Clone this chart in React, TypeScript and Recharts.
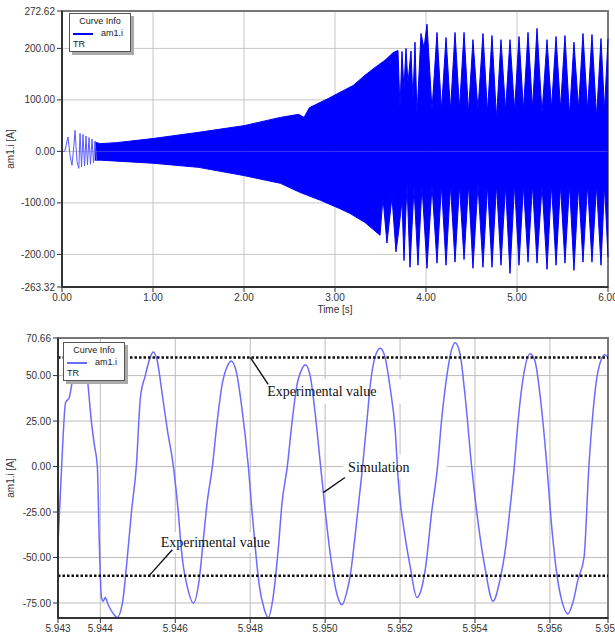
import React from "react"
import {
  ComposedChart,
  Area,
  Line,
  XAxis,
  YAxis,
  CartesianGrid,
  ReferenceLine,
  ReferenceArea,
  Legend,
} from "recharts"

// ---- upper panel: am1.i over the whole run, read as its upper / lower edge
const upperTime = [
  0.36, 0.42, 0.6, 1.0, 1.5, 2.0, 2.4, 2.6, 2.66, 2.72,
  2.93, 3.09, 3.2, 3.33, 3.44, 3.55, 3.64,
  3.692, 3.714, 3.736, 3.758, 3.78, 3.802, 3.835, 3.857, 3.879, 3.901,
  3.945, 3.978, 4.011, 4.066,
  4.121, 4.17, 4.22, 4.269, 4.319, 4.368, 4.418, 4.467, 4.516, 4.571,
  4.626, 4.676, 4.725, 4.775, 4.824, 4.874, 4.923, 4.973, 5.022, 5.071,
  5.121, 5.17, 5.22, 5.275, 5.33, 5.379, 5.429, 5.478, 5.527, 5.577,
  5.626, 5.676, 5.725, 5.775, 5.824, 5.874, 5.923, 5.962, 6.0,
]
const upperCurrent = [
  18, 15, 17, 25, 37, 50, 66, 72, 66, 85,
  103, 118, 128, 148, 163, 177, 192,
  196, 83, 194, 120, 200, 132, 195, 99, 212, 70,
  229, 200, 247, 80,
  231, 80, 221, 80, 231, 83, 231, 76, 217, 80,
  229, 76, 225, 64, 217, 80, 217, 80, 223, 80,
  231, 83, 239, 73, 217, 83, 223, 83, 225, 70,
  212, 83, 229, 80, 227, 66, 219, 80, 219,
]
const lowerTime = [
  0.36, 0.42, 1.0, 1.5, 2.0, 2.4, 2.62, 2.84, 3.05, 3.16,
  3.33, 3.495, 3.527, 3.571, 3.626, 3.67, 3.703, 3.736, 3.758, 3.791,
  3.824, 3.868, 3.912, 3.956, 4.011, 4.066, 4.121, 4.17, 4.22, 4.269,
  4.319, 4.368, 4.418, 4.467, 4.516, 4.571, 4.626, 4.676, 4.725, 4.775,
  4.824, 4.874, 4.923, 4.973, 5.022, 5.071, 5.121, 5.17, 5.22, 5.275,
  5.33, 5.379, 5.429, 5.478, 5.527, 5.577, 5.626, 5.676, 5.725, 5.775,
  5.824, 5.874, 5.923, 5.962, 6.0,
]
const lowerCurrent = [
  -17, -17, -23, -31, -47, -62, -80, -95, -111, -120,
  -138, -163, -90, -178, -88, -195, -150, -95, -212, -62,
  -225, -70, -221, -66, -227, -66, -217, -66, -221, -66,
  -215, -66, -210, -64, -227, -64, -225, -66, -225, -64,
  -221, -66, -237, -64, -221, -66, -215, -64, -217, -66,
  -229, -64, -221, -66, -217, -64, -231, -66, -215, -64,
  -215, -66, -221, -66, -205,
]
// start-up transient, before the trace becomes dense
const startTime = [
  0, 0.03, 0.066, 0.09, 0.11, 0.13, 0.143, 0.165, 0.185, 0.198, 0.215,
  0.231, 0.248, 0.264, 0.28, 0.297, 0.313, 0.33, 0.346, 0.363, 0.38,
]
const startCurrent = [
  0, 0, 28, -10, -27, 10, 41, -20, -33, 35, -30,
  33, -28, 30, -26, 27, -25, 24, -22, 20, -18,
]
const fullTimeTicks = [0, 1, 2, 3, 4, 5, 6]
const fullCurrentTicks = [-263.32, -200, -100, 0, 100, 200, 272.62]

// ---- lower panel: zoom on the last cycles
const zoomTime = [
  5.94288, 5.94299, 5.94307, 5.94317, 5.94328, 5.94347, 5.94363, 5.94376, 5.94384, 5.94392,
  5.94397, 5.94403, 5.94408, 5.94413, 5.94421, 5.94435, 5.94445, 5.94459, 5.94472, 5.94483,
  5.94496, 5.94507, 5.9452, 5.94533, 5.94541, 5.94552, 5.94565, 5.94579, 5.94595, 5.94608,
  5.94616, 5.94621, 5.94632, 5.94648, 5.94664, 5.94675, 5.94685, 5.94699, 5.94712, 5.94725,
  5.94741, 5.94749, 5.94763, 5.94776, 5.94795, 5.94805, 5.94816, 5.94824, 5.94837, 5.94848,
  5.94861, 5.94875, 5.94885, 5.94899, 5.94912, 5.94925, 5.94939, 5.94947, 5.9496, 5.94973,
  5.94987, 5.94995, 5.95013, 5.95029, 5.95045, 5.95059, 5.95067, 5.9508, 5.95099, 5.95112,
  5.9512, 5.95133, 5.95147, 5.9516, 5.95173, 5.95187, 5.95195, 5.95213, 5.95227, 5.95245,
  5.95256, 5.95267, 5.95285, 5.95299, 5.95312, 5.95325, 5.95336, 5.95347, 5.9536, 5.95373,
  5.95392, 5.95413, 5.95427, 5.95448, 5.95467, 5.9548, 5.95493, 5.95504, 5.95515, 5.95528,
  5.95547, 5.9556, 5.95576, 5.95592, 5.95603, 5.95619, 5.95632, 5.95648, 5.95661, 5.95675,
  5.95691, 5.95704, 5.95715, 5.95728, 5.95747, 5.95755,
]
const zoomCurrent = [
  -38, 10, 35, 38, 50, 61, 52, 25, 12, 0,
  -40, -72, -74, -72, -76, -81, -83, -75, -50, -25,
  0, 38, 50, 60, 63, 58, 40, 20, 0, -25,
  -45, -54, -66, -75, -62, -40, -20, 0, 25, 45,
  56, 58, 52, 35, 0, -25, -50, -65, -78, -83,
  -72, -45, -20, 0, 25, 45, 54, 56, 50, 30,
  2, -14, -47, -68, -76, -68, -60, -38, -2, 26,
  44, 60, 65, 60, 44, 20, -7, -38, -55, -72,
  -68, -57, -24, -2, 28, 50, 63, 68, 62, 40,
  -2, -38, -56, -74, -62, -47, -24, -2, 25, 48,
  62, 58, 35, 0, -29, -60, -74, -81, -75, -62,
  -50, 0, 30, 52, 61.5, 60,
]
const zoomTimeTicks = [5.94287, 5.944, 5.946, 5.948, 5.95, 5.952, 5.954, 5.956, 5.95755]
const zoomCurrentTicks = [-75, -50, -25, 0, 25, 50, 70.66]
const experimentalLevels = [60, -60]

// annotation text boxes [t1, t2, i1, i2] and their pointer lines [t, i, t, i]
const noteLabels = ["Experimental value", "Simulation", "Experimental value"]
const noteBoxes = [
  [5.94832, 5.95307, 34.5, 48],
  [5.95048, 5.95325, -7, 6.6],
  [5.94548, 5.94878, -36, -47.5],
]
const notePointers = [
  [5.948, 60, 5.94848, 45.2],
  [5.94995, -14.3, 5.95053, -6],
  [5.94528, -60.5, 5.94592, -45.7],
]

const steps = (a: number, b: number, s: number) => {
  const out: number[] = []
  for (let v = a; v <= b + s / 1000; v += s) out.push(+v.toFixed(6))
  return out
}

const upperRows = upperTime.map((t, i) => ({ t, v: upperCurrent[i] }))
const lowerRows = lowerTime.map((t, i) => ({ t, v: lowerCurrent[i] }))
const startRows = startTime.map((t, i) => ({ t, v: startCurrent[i] }))
const zoomRows = zoomTime.map((t, i) => ({ t, v: zoomCurrent[i] }))

const FULL_BLUE = "#0000ff"
const ZOOM_BLUE = "#6b6bff"
const sans = "'Liberation Sans', Arial, sans-serif"
const serif = "'Liberation Serif', 'Times New Roman', serif"
const tickStyle = { fontSize: 10, fill: "#333", fontFamily: sans }

function CurveInfo({ color }: { color: string }) {
  return (
    <div
      style={{
        width: 60,
        height: 37,
        border: "1px solid #555",
        background: "#fff",
        boxShadow: "3px 3px 0 #aaa",
        fontFamily: sans,
        fontSize: 9,
        color: "#222",
        lineHeight: "11px",
      }}
    >
      <div style={{ textAlign: "center", paddingTop: 2 }}>Curve Info</div>
      <div style={{ display: "flex", alignItems: "center", paddingLeft: 3, marginTop: 1 }}>
        <span style={{ display: "inline-block", width: 20, height: 2, background: color }} />
        <span style={{ marginLeft: 8 }}>am1.i</span>
      </div>
      <div style={{ paddingLeft: 3 }}>TR</div>
    </div>
  )
}

function FullRun() {
  return (
    <ComposedChart width={615} height={320} margin={{ top: 11, right: 7, bottom: 3, left: 12 }}>
      <XAxis
        xAxisId="minor"
        type="number"
        dataKey="t"
        domain={[0, 6]}
        ticks={steps(0, 6, 0.2)}
        tick={false}
        tickSize={3}
        axisLine={false}
        tickLine={{ stroke: "#333" }}
        height={0}
      />
      <YAxis
        yAxisId="minor"
        type="number"
        domain={[-263.32, 272.62]}
        ticks={steps(-260, 260, 20)}
        tick={false}
        tickSize={3}
        axisLine={false}
        tickLine={{ stroke: "#333" }}
        width={0}
      />
      <CartesianGrid xAxisId="minor" yAxisId="minor" stroke="#ebebeb" />
      <CartesianGrid stroke="#c6c6c6" />
      <XAxis
        type="number"
        dataKey="t"
        domain={[0, 6]}
        ticks={fullTimeTicks}
        interval={0}
        tickFormatter={(v: number) => v.toFixed(2)}
        tick={tickStyle}
        tickSize={5}
        tickLine={{ stroke: "#333" }}
        axisLine={{ stroke: "#333", strokeWidth: 2 }}
        height={30}
        label={{ value: "Time [s]", position: "insideBottom", offset: 4, fontSize: 10, fill: "#333", fontFamily: sans }}
      />
      <YAxis
        type="number"
        domain={[-263.32, 272.62]}
        ticks={fullCurrentTicks}
        interval={0}
        tickFormatter={(v: number) => v.toFixed(2)}
        tick={tickStyle}
        tickSize={5}
        tickLine={{ stroke: "#333" }}
        axisLine={{ stroke: "#333", strokeWidth: 2 }}
        width={50}
        label={{
          value: "am1.i [A]",
          angle: -90,
          position: "insideLeft",
          offset: -2,
          fontSize: 10,
          fill: "#333",
          fontFamily: sans,
          style: { textAnchor: "middle" },
        }}
      />
      <ReferenceArea x1={0} x2={6} y1={-263.32} y2={272.62} fill="none" stroke="#777" strokeWidth={2} />
      <Area
        data={upperRows}
        dataKey="v"
        name="am1.i"
        type="linear"
        baseValue={0}
        fill={FULL_BLUE}
        fillOpacity={1}
        stroke={FULL_BLUE}
        strokeWidth={1}
        dot={false}
        isAnimationActive={false}
      />
      <Area
        data={lowerRows}
        dataKey="v"
        type="linear"
        baseValue={0}
        fill={FULL_BLUE}
        fillOpacity={1}
        stroke={FULL_BLUE}
        strokeWidth={1}
        dot={false}
        legendType="none"
        isAnimationActive={false}
      />
      <Line
        data={startRows}
        dataKey="v"
        type="linear"
        stroke="#5a5aff"
        strokeWidth={1}
        dot={false}
        legendType="none"
        isAnimationActive={false}
      />
      <Legend
        verticalAlign="middle"
        align="center"
        content={() => <CurveInfo color={FULL_BLUE} />}
        wrapperStyle={{ left: 69, top: 13, width: "auto", height: "auto" }}
      />
    </ComposedChart>
  )
}

function LastCycles() {
  return (
    <ComposedChart width={615} height={316} margin={{ top: 18, right: 7, bottom: 0, left: 12 }}>
      <XAxis
        xAxisId="minor"
        type="number"
        dataKey="t"
        domain={[5.94287, 5.95755]}
        ticks={steps(5.9435, 5.9575, 0.0005)}
        tick={false}
        tickSize={3}
        axisLine={false}
        tickLine={{ stroke: "#333" }}
        height={0}
      />
      <YAxis
        yAxisId="minor"
        type="number"
        domain={[-83.26, 70.66]}
        ticks={steps(-80, 70, 5)}
        tick={false}
        tickSize={3}
        axisLine={false}
        tickLine={{ stroke: "#333" }}
        width={0}
      />
      <CartesianGrid xAxisId="minor" yAxisId="minor" stroke="#e6e6e6" />
      <CartesianGrid stroke="#bdbdbd" />
      <XAxis
        type="number"
        dataKey="t"
        domain={[5.94287, 5.95755]}
        ticks={zoomTimeTicks}
        interval={0}
        tickFormatter={(v: number) => v.toFixed(3)}
        tick={tickStyle}
        tickSize={5}
        tickLine={{ stroke: "#333" }}
        axisLine={{ stroke: "#333", strokeWidth: 2 }}
        height={18}
      />
      <YAxis
        type="number"
        domain={[-83.26, 70.66]}
        ticks={zoomCurrentTicks}
        interval={0}
        tickFormatter={(v: number) => v.toFixed(2)}
        tick={tickStyle}
        tickSize={5}
        tickLine={{ stroke: "#333" }}
        axisLine={{ stroke: "#333", strokeWidth: 2 }}
        width={46}
        label={{
          value: "am1.i [A]",
          angle: -90,
          position: "insideLeft",
          offset: -2,
          fontSize: 10,
          fill: "#333",
          fontFamily: sans,
          style: { textAnchor: "middle" },
        }}
      />
      <ReferenceArea x1={5.94287} x2={5.95755} y1={-83.26} y2={70.66} fill="none" stroke="#777" strokeWidth={2} />
      <Line
        data={zoomRows}
        dataKey="v"
        name="am1.i"
        type="monotone"
        stroke={ZOOM_BLUE}
        strokeWidth={1.5}
        dot={false}
        isAnimationActive={false}
      />
      {experimentalLevels.map((lv) => (
        <ReferenceLine key={lv} y={lv} stroke="#111" strokeWidth={2.5} strokeDasharray="2.5 2" />
      ))}
      {noteBoxes.map((b, i) => (
        <ReferenceArea
          key={"box" + i}
          x1={b[0]}
          x2={b[1]}
          y1={b[2]}
          y2={b[3]}
          fill="#fff"
          fillOpacity={1}
          stroke="none"
          label={{ value: noteLabels[i], position: "insideLeft", offset: 5, fontSize: 14, fill: "#111", fontFamily: serif }}
        />
      ))}
      {notePointers.map((p, i) => (
        <ReferenceLine
          key={"ptr" + i}
          segment={[
            { x: p[0], y: p[1] },
            { x: p[2], y: p[3] },
          ]}
          stroke="#111"
          strokeWidth={1.4}
        />
      ))}
      <Legend
        verticalAlign="middle"
        align="center"
        content={() => <CurveInfo color={ZOOM_BLUE} />}
        wrapperStyle={{ left: 63, top: 22, width: "auto", height: "auto" }}
      />
    </ComposedChart>
  )
}

export default function App() {
  return (
    <div style={{ position: "absolute", left: 0, top: 0, width: 615, height: 636, background: "#fff", overflow: "hidden" }}>
      <div style={{ position: "absolute", left: 0, top: 0 }}>
        <FullRun />
      </div>
      <div style={{ position: "absolute", left: 0, top: 320 }}>
        <LastCycles />
      </div>
    </div>
  )
}
